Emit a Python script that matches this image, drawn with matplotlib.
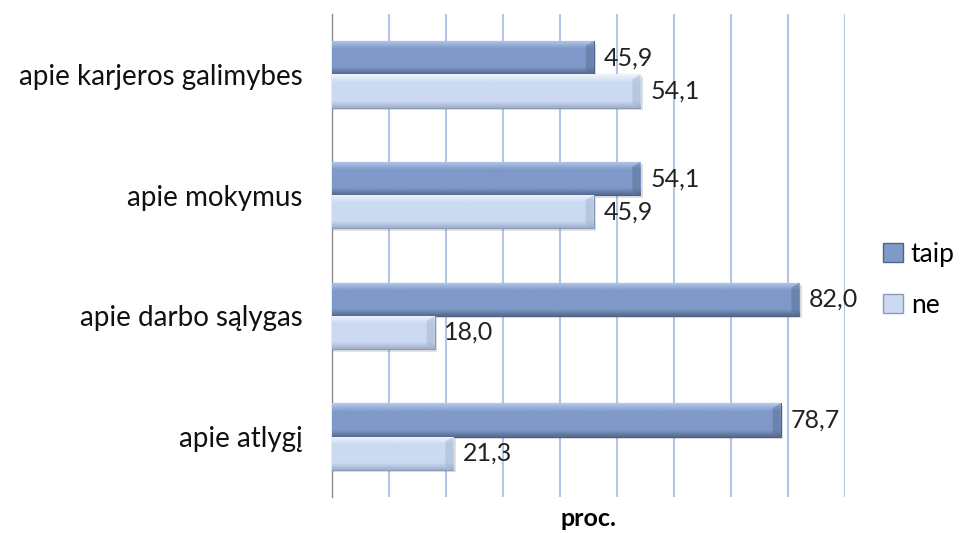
import numpy as np
import matplotlib.pyplot as plt
from matplotlib.patches import Patch
from matplotlib.colors import to_rgb

plt.rcParams['font.family'] = ['Lato', 'DejaVu Sans']

categories = ['apie karjeros galimybes', 'apie mokymus', 'apie darbo sąlygas', 'apie atlygį']
taip = [45.9, 54.1, 82.0, 78.7]
ne = [54.1, 45.9, 18.0, 21.3]
series_names = ['taip', 'ne']

# top highlight, body, bottom shade
shades = {
    'taip': ['#b4c9ec', '#7f99c9', '#56698f'],
    'ne': ['#f0f5fc', '#cbdaf1', '#9fb0cc'],
}
edges = {'taip': '#4f6187', 'ne': '#8a9bb8'}


def gradient(cols, n=60):
    c0, c1, c2 = (np.array(to_rgb(c)) for c in cols)
    t = np.linspace(0, 1, n)
    rows = []
    for v in t:
        if v < 0.25:
            rows.append(c0 + (c1 - c0) * v / 0.25)
        elif v < 0.8:
            rows.append(c1)
        else:
            rows.append(c1 + (c2 - c1) * (v - 0.8) / 0.2)
    return np.array(rows).reshape(n, 1, 3)


fig = plt.figure(figsize=(9.62, 5.33), dpi=100)
ax = fig.add_axes([0.3451, 0.0675, 0.5333, 0.906])

h = 0.275
y = np.arange(len(categories))
for name, vals, off in [('taip', taip, -h / 2), ('ne', ne, h / 2)]:
    bars = ax.barh(y + off, vals, height=h, color=shades[name][1],
                   edgecolor=edges[name], linewidth=0.8, zorder=3)
    img = gradient(shades[name])
    for b, v in zip(bars, vals):
        yc = b.get_y() + b.get_height() / 2
        # soft drop shadow
        ax.barh(yc + 0.02, v + 0.4, height=h, color='#000000', alpha=0.12,
                linewidth=0, zorder=2)
        im = ax.imshow(img, extent=(0, v, yc + h / 2, yc - h / 2),
                       aspect='auto', origin='upper', zorder=3.5)
        im.set_clip_path(b)
        # bevelled right end
        d = 1.4
        ax.fill([v - d, v, v, v - d], [yc - h / 2 + 0.04, yc - h / 2, yc + h / 2, yc + h / 2 - 0.04],
                color=shades[name][2], alpha=0.45, linewidth=0, zorder=3.6)
        ax.text(v + 1.7, yc, f'{v:.1f}'.replace('.', ','), va='center', ha='left',
                fontsize=18, color='#222222', zorder=5)

ax.set_xlim(0, 90)
ax.set_ylim(len(categories) - 0.5, -0.5)
ax.set_xticks(np.arange(10, 91, 10))
ax.set_xticklabels([])
ax.tick_params(axis='x', length=0)
ax.grid(axis='x', color='#b3c6e8', linewidth=1.5, zorder=0)
ax.set_yticks(y)
ax.set_yticklabels(categories, fontsize=20, color='#111111')
ax.tick_params(axis='y', length=0, pad=21)
for s in ['top', 'right', 'bottom']:
    ax.spines[s].set_visible(False)
ax.spines['left'].set_color('#8c8c8c')
ax.spines['left'].set_linewidth(1.0)
ax.set_xlabel('proc.', fontsize=18, fontweight='bold', labelpad=4)

handles = [Patch(facecolor=shades[n][1], edgecolor=edges[n], label=n) for n in series_names]
fig.legend(handles=handles, loc='center left', bbox_to_anchor=(0.918, 0.475),
           frameon=False, fontsize=19, handlelength=0.75, handleheight=0.75,
           handletextpad=0.3, labelspacing=1.0, borderpad=0, borderaxespad=0)

fig.savefig('out.png', dpi=100)
